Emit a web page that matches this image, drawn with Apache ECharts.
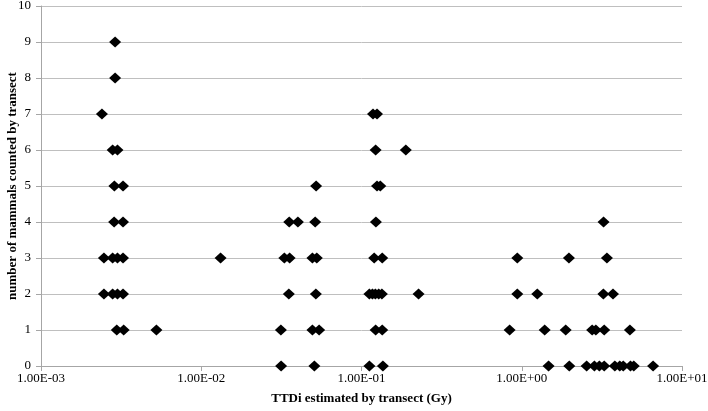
<!DOCTYPE html>
<html>
<head>
<meta charset="utf-8">
<script src="https://cdn.jsdelivr.net/npm/echarts@6/dist/echarts.min.js"></script>
<style>
  html, body { margin: 0; padding: 0; background: #fff; }
  #chart { width: 708px; height: 411px; }
</style>
</head>
<body>
<div id="chart"></div>
<script>
// TTDi (Gy) of each transect, grouped by number of mammals counted
const ttdCount0 = [0.0315, 0.0508, 0.112, 0.136, 1.47, 1.98, 2.54, 2.84, 3.05, 3.27, 3.81, 4.09, 4.3, 4.77, 5.0, 6.6]
const ttdCount1 = [0.00297, 0.00328, 0.00525, 0.0314, 0.0494, 0.0544, 0.1225, 0.1347, 0.84, 1.39, 1.88, 2.75, 2.9, 3.27, 4.73]
const ttdCount2 = [0.00247, 0.0028, 0.003, 0.00325, 0.0352, 0.0519, 0.112, 0.117, 0.122, 0.128, 0.134, 0.227, 0.938, 1.25, 3.23, 3.71]
const ttdCount3 = [0.00247, 0.0028, 0.003, 0.00325, 0.0132, 0.033, 0.0356, 0.0494, 0.0526, 0.12, 0.1347, 0.938, 1.97, 3.4]
const ttdCount4 = [0.00286, 0.00325, 0.0354, 0.0401, 0.0514, 0.123, 3.24]
const ttdCount5 = [0.00287, 0.00325, 0.0521, 0.125, 0.131]
const ttdCount6 = [0.0028, 0.003, 0.1225, 0.189]
const ttdCount7 = [0.0024, 0.118, 0.125]
const ttdCount8 = [0.0029]
const ttdCount9 = [0.0029]

const rows = [ttdCount0, ttdCount1, ttdCount2, ttdCount3, ttdCount4, ttdCount5, ttdCount6, ttdCount7, ttdCount8, ttdCount9]
const points = []
rows.forEach((xs, count) => xs.forEach((x) => points.push([x, count])))

const FONT = '"Liberation Serif", "DejaVu Serif", serif'

// 1.00E-03 style labels
function sci(v) {
  const s = Number(v).toExponential(2).toUpperCase()
  return s.replace(/E([+-])(\d)$/, (m, sign, d) => 'E' + sign + '0' + d)
}

const chart = echarts.init(document.getElementById('chart'))
chart.setOption({
  animation: false,
  backgroundColor: '#fff',
  grid: { left: 41, right: 26, top: 6, bottom: 45, containLabel: false, outerBoundsMode: 'none' },
  xAxis: {
    type: 'log',
    logBase: 10,
    min: 0.001,
    max: 10,
    name: 'TTDi estimated by transect (Gy)',
    nameLocation: 'middle',
    nameGap: 26,
    nameMoveOverlap: false,
    nameTextStyle: { color: '#000', fontFamily: FONT, fontWeight: 'bold', fontSize: 13 },
    axisLine: { lineStyle: { color: '#a6a6a6' } },
    axisTick: { show: true, length: 5, lineStyle: { color: '#a6a6a6' } },
    axisLabel: { color: '#000', fontFamily: FONT, fontSize: 13, margin: 6, formatter: sci },
    splitLine: { show: false },
  },
  yAxis: {
    type: 'value',
    min: 0,
    max: 10,
    interval: 1,
    name: 'number of mammals counted by transect',
    nameLocation: 'middle',
    nameGap: 22,
    nameMoveOverlap: false,
    nameTextStyle: { color: '#000', fontFamily: FONT, fontWeight: 'bold', fontSize: 13 },
    axisLine: { show: true, lineStyle: { color: '#a6a6a6' } },
    axisTick: { show: true, length: 5, lineStyle: { color: '#a6a6a6' } },
    axisLabel: { color: '#000', fontFamily: FONT, fontSize: 13, margin: 10 },
    splitLine: { lineStyle: { color: '#bfbfbf' } },
  },
  series: [{
    type: 'scatter',
    symbol: 'diamond',
    symbolSize: [12, 11],
    itemStyle: { color: '#000', opacity: 1 },
    data: points,
  }],
})
</script>
</body>
</html>
